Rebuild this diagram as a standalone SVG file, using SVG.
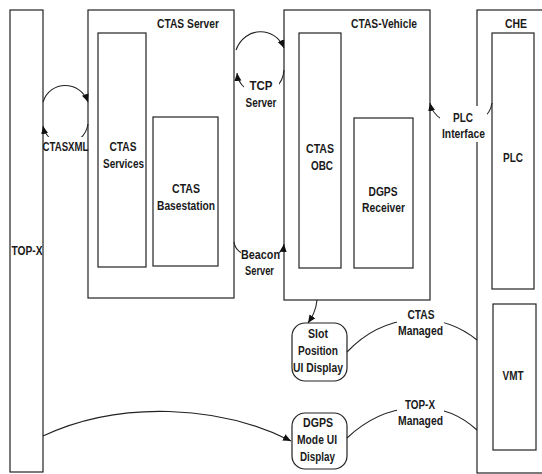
<svg xmlns="http://www.w3.org/2000/svg" width="542" height="474" viewBox="0 0 542 474">
<defs>
<style>
.box{fill:#fff;stroke:#222;stroke-width:1.2}
.t{font-family:"Liberation Sans",Arial,sans-serif;font-size:13.5px;font-weight:bold;fill:#1a1a1a;text-anchor:middle}
.c{fill:none;stroke:#222;stroke-width:1.1}
.lbg{fill:#fff;stroke:none}
</style>
<marker id="ah" markerUnits="userSpaceOnUse" markerWidth="9" markerHeight="8" refX="8" refY="4" orient="auto">
<path d="M0,0.5 L8,4 L0,7.5 Z" fill="#111"/>
</marker>
</defs>
<rect width="542" height="474" fill="#fff"/>

<g id="topx">
<rect class="box" x="10" y="10" width="33" height="462"/>
<text class="t" x="27" y="255" textLength="31" lengthAdjust="spacingAndGlyphs">TOP-X</text>
</g>

<g id="ctas-server">
<rect class="box" x="88" y="10" width="146" height="288"/>
<text class="t" x="188" y="28" textLength="62" lengthAdjust="spacingAndGlyphs">CTAS Server</text>
</g>
<g id="ctas-services">
<rect class="box" x="98" y="33" width="48" height="234"/>
<text class="t" x="123" y="151" textLength="27" lengthAdjust="spacingAndGlyphs">CTAS</text>
<text class="t" x="123.5" y="168" textLength="41" lengthAdjust="spacingAndGlyphs">Services</text>
</g>
<g id="ctas-basestation">
<rect class="box" x="153" y="117" width="65" height="149"/>
<text class="t" x="186" y="193" textLength="28" lengthAdjust="spacingAndGlyphs">CTAS</text>
<text class="t" x="186" y="210" textLength="58" lengthAdjust="spacingAndGlyphs">Basestation</text>
</g>

<g id="ctas-vehicle">
<rect class="box" x="284" y="10" width="146" height="290"/>
<text class="t" x="384" y="28" textLength="66" lengthAdjust="spacingAndGlyphs">CTAS-Vehicle</text>
</g>
<g id="ctas-obc">
<rect class="box" x="299" y="33" width="42" height="235"/>
<text class="t" x="320" y="153" textLength="28" lengthAdjust="spacingAndGlyphs">CTAS</text>
<text class="t" x="322" y="170" textLength="22" lengthAdjust="spacingAndGlyphs">OBC</text>
</g>
<g id="dgps-receiver">
<rect class="box" x="354" y="118" width="59" height="150"/>
<text class="t" x="383" y="196" textLength="29" lengthAdjust="spacingAndGlyphs">DGPS</text>
<text class="t" x="383.5" y="212" textLength="43" lengthAdjust="spacingAndGlyphs">Receiver</text>
</g>

<g id="che">
<rect class="box" x="477" y="10" width="80" height="463"/>
<text class="t" x="516" y="28" textLength="22" lengthAdjust="spacingAndGlyphs">CHE</text>
</g>
<g id="plc">
<rect class="box" x="492" y="33" width="42" height="256"/>
<text class="t" x="513" y="162" textLength="20" lengthAdjust="spacingAndGlyphs">PLC</text>
</g>
<g id="vmt">
<rect class="box" x="493" y="304" width="43" height="146"/>
<text class="t" x="513" y="380" textLength="21" lengthAdjust="spacingAndGlyphs">VMT</text>
</g>

<g id="slot-position">
<rect class="box" x="292" y="323" width="55" height="58" rx="13" ry="13"/>
<text class="t" x="318" y="338" textLength="20" lengthAdjust="spacingAndGlyphs">Slot</text>
<text class="t" x="318" y="355" textLength="40" lengthAdjust="spacingAndGlyphs">Position</text>
<text class="t" x="318" y="372" textLength="50" lengthAdjust="spacingAndGlyphs">UI Display</text>
</g>
<g id="dgps-mode">
<rect class="box" x="292" y="413" width="55" height="56" rx="13" ry="13"/>
<text class="t" x="318" y="427" textLength="30" lengthAdjust="spacingAndGlyphs">DGPS</text>
<text class="t" x="317" y="444" textLength="40" lengthAdjust="spacingAndGlyphs">Mode UI</text>
<text class="t" x="317.5" y="461" textLength="35" lengthAdjust="spacingAndGlyphs">Display</text>
</g>

<g id="connectors">
<path class="c" d="M43,102 C50,80 80,80 88,102" marker-end="url(#ah)"/>
<path class="c" d="M88,124 C84,150 48,150 43,126" marker-end="url(#ah)"/>
<path class="c" d="M236,50 C245,26 275,26 284,48" marker-end="url(#ah)"/>
<path class="c" d="M284,70 C282,100 240,100 237,73" marker-end="url(#ah)"/>
<path class="c" d="M234,242 C236,262 282,264 284,244" marker-end="url(#ah)"/>
<path class="c" d="M492,103 C488,132 436,132 430,103" marker-end="url(#ah)"/>
<path class="c" d="M317,300 C316,311 312,317 308,323" marker-end="url(#ah)"/>
<path class="c" d="M347,352 C385,312 440,310 477,340"/>
<path class="c" d="M43,436 C120,400 220,405 291,441" marker-end="url(#ah)"/>
<path class="c" d="M347,438 C385,402 440,396 477,430"/>

<rect class="lbg" x="44" y="137" width="43" height="17"/>
<text class="t" x="65.5" y="151" textLength="46" lengthAdjust="spacingAndGlyphs">CTASXML</text>

<rect class="lbg" x="244" y="78" width="35" height="32"/>
<text class="t" x="261" y="90" textLength="23" lengthAdjust="spacingAndGlyphs">TCP</text>
<text class="t" x="261" y="107" textLength="31" lengthAdjust="spacingAndGlyphs">Server</text>

<rect class="lbg" x="241" y="247" width="38" height="31"/>
<text class="t" x="260.5" y="259" textLength="39" lengthAdjust="spacingAndGlyphs">Beacon</text>
<text class="t" x="259.5" y="275" textLength="29" lengthAdjust="spacingAndGlyphs">Server</text>

<rect class="lbg" x="440" y="106" width="47" height="36"/>
<text class="t" x="463" y="122" textLength="20" lengthAdjust="spacingAndGlyphs">PLC</text>
<text class="t" x="463.5" y="138" textLength="43" lengthAdjust="spacingAndGlyphs">Interface</text>

<rect class="lbg" x="397" y="306" width="47" height="32"/>
<text class="t" x="421" y="319" textLength="27" lengthAdjust="spacingAndGlyphs">CTAS</text>
<text class="t" x="420.5" y="335" textLength="45" lengthAdjust="spacingAndGlyphs">Managed</text>

<rect class="lbg" x="397" y="396" width="47" height="33"/>
<text class="t" x="420" y="409" textLength="30" lengthAdjust="spacingAndGlyphs">TOP-X</text>
<text class="t" x="420.5" y="425" textLength="45" lengthAdjust="spacingAndGlyphs">Managed</text>
</g>
</svg>
